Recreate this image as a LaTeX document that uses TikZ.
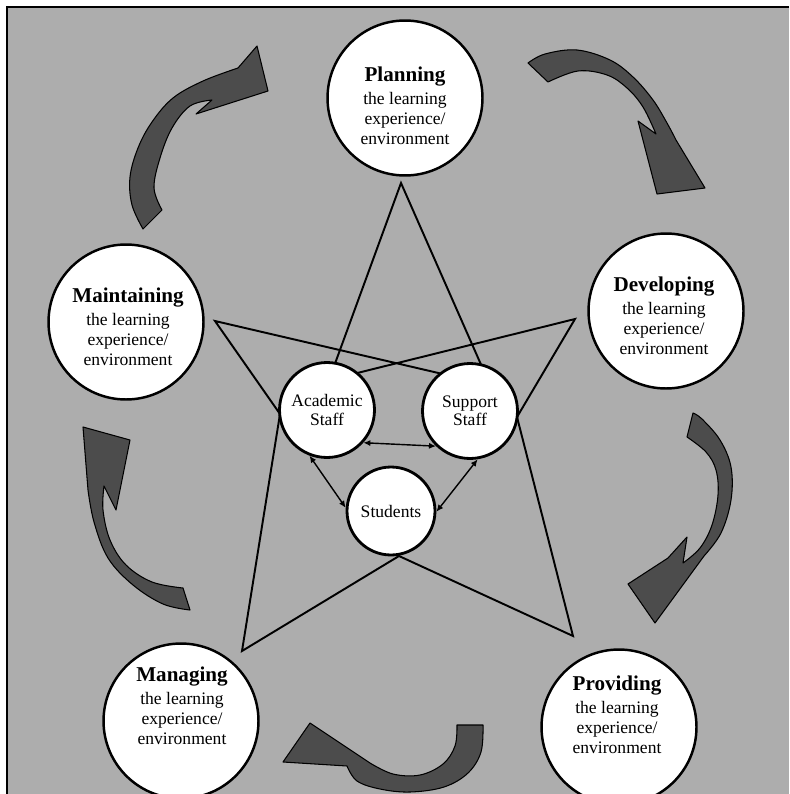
\documentclass[tikz,border=0pt]{standalone}
\usepackage{fontspec}
\setmainfont{Liberation Serif}
\usepackage{tikz}
\usetikzlibrary{arrows.meta}
\definecolor{screen}{gray}{0.68}
\definecolor{shade}{gray}{0.3}
\tikzset{phase/.style={circle,draw,fill=white,line width=1.4pt,minimum size=3.1cm,inner sep=0pt}}
\tikzset{phasetext/.style={align=center,inner sep=0pt,font=\fontsize{10}{11.5}\selectfont}}
\tikzset{staff/.style={circle,draw,fill=white,line width=1.6pt,minimum size=1.9cm,inner sep=0pt,align=center,font=\fontsize{10}{10.5}\selectfont}}
\tikzset{twoway/.style={{Latex[length=4pt,width=3.5pt]}-{Latex[length=4pt,width=3.5pt]},line width=0.8pt}}
\tikzset{turnarrow/.style={fill=shade,draw=black,line width=0.6pt,line join=round}}
\newcommand{\phaselabel}[1]{{\fontsize{12}{14}\selectfont\bfseries #1}\\[1.5pt]the learning\\experience/\\environment}

\begin{document}
\begin{tikzpicture}[x=0.02cm,y=-0.02cm]
  \useasboundingbox (0,0) rectangle (789,794);
  \fill[screen] (7,7) rectangle (789,794);
  \draw[line width=1.2pt] (789,7) -- (7,7) -- (7,794);

  % star
  \coordinate (T) at (401,183);
  \coordinate (X1) at (329,380);
  \coordinate (R) at (575,319);
  \coordinate (X3) at (517,417);
  \coordinate (BR) at (573,636);
  \coordinate (X4) at (399,556);
  \coordinate (BL) at (242,651);
  \coordinate (X5) at (280,414);
  \coordinate (L) at (215,321);
  \coordinate (X2) at (490,385);
  \draw[line width=1.1pt] (T) -- (X1) -- (R) -- (X3) -- (BR) -- (X4) -- (BL) -- (X5) -- (L) -- (X2) -- cycle;

  \node[phase] (plan) at (405,98) {};
  \node[phase] (dev) at (666,311) {};
  \node[phase] (maint) at (126,322) {};
  \node[phase] (manag) at (181,721) {};
  \node[phase] (prov) at (619,727) {};
  \node[phasetext] (plantxt) at (405,106) {\phaselabel{Planning}};
  \node[phasetext] (devtxt) at (664,316) {\phaselabel{Developing}};
  \node[phasetext] (mainttxt) at (128,327) {\phaselabel{Maintaining}};
  \node[phasetext] (managtxt) at (182,706) {\phaselabel{Managing}};
  \node[phasetext] (provtxt) at (617,715) {\phaselabel{Providing}};

  \node[staff] (acad) at (327,410) {Academic\\Staff};
  \node[staff] (supp) at (470,411) {Support\\Staff};
  \node[staff,minimum size=1.76cm] (stud) at (391,511) {Students};

  \draw[twoway] (acad.318) -- (supp.226);
  \draw[twoway] (acad.249) -- (stud.176);
  \draw[twoway] (supp.279) -- (stud.359);

  % cycle arrows
  \filldraw[turnarrow] plot[smooth,tension=0.6] coordinates {(143,229) (132,205) (130,177) (138,148) (152,122) (173,98) (203,81) (238,68)}
    -- (257,46) -- (268,91) -- (196,114) -- (212,100)
    -- plot[smooth,tension=0.6] coordinates {(212,100) (190,106) (172,128) (160,158) (154,188) (162,210)} -- cycle;
  \filldraw[turnarrow] plot[smooth,tension=0.6] coordinates {(528,63) (545,54) (577,50) (610,60) (633,77) (653,100) (667,123) (676,140)}
    -- (705,188) -- (657,194) -- (638,121) -- (656,134)
    -- plot[smooth,tension=0.6] coordinates {(656,134) (643,107) (627,88) (607,75) (578,71) (548,82)} -- cycle;
  \filldraw[turnarrow] plot[smooth,tension=0.6] coordinates {(693,413) (702,419) (720,440) (731,467) (731,500) (721,533) (704,556)}
    -- (655,623) -- (628,584) -- (668,558) -- (687,537) -- (683,563)
    -- plot[smooth,tension=0.6] coordinates {(683,563) (700,548) (712,525) (718,495) (716,470) (706,452) (687,437)} -- cycle;
  \filldraw[turnarrow] (83,427) -- (130,440) -- (116,510) -- (104,486)
    -- plot[smooth,tension=0.6] coordinates {(104,486) (103,510) (110,540) (126,565) (152,582) (183,588)}
    -- plot[smooth,tension=0.6] coordinates {(190,610) (163,604) (133,585) (108,558) (94,522) (88,490)} -- cycle;
  \filldraw[turnarrow] (283,762) -- (310,723) -- (370,763)
    -- plot[smooth,tension=0.6] coordinates {(370,763) (393,774) (420,775) (443,764) (455,746) (457,725)}
    -- plot[smooth,tension=0.6] coordinates {(483,725) (481,752) (468,773) (444,787) (410,792) (380,789) (357,781) (347,766)} -- cycle;
\end{tikzpicture}
\end{document}
